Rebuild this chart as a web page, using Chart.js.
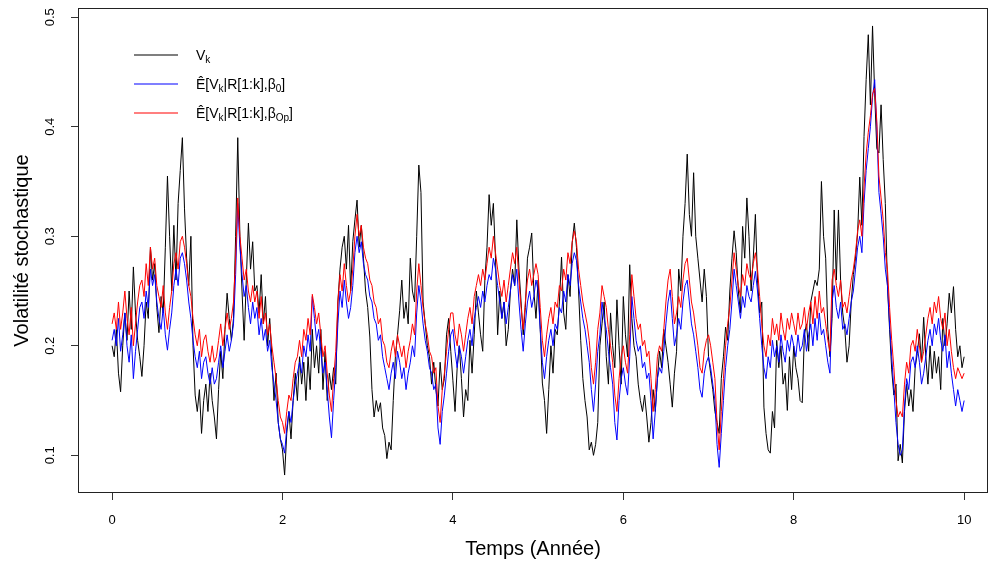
<!DOCTYPE html>
<html>
<head>
<meta charset="utf-8">
<script src="https://cdn.jsdelivr.net/npm/chart.js@4/dist/chart.umd.min.js"></script>
<style>
html,body{margin:0;padding:0;background:#fff;}
canvas{display:block;}
</style>
</head>
<body>
<canvas id="c" width="990" height="563"></canvas>
<script>
// ---- Data (time grid: 0 to 10 years, step 0.025) ----
const T_START = 0;
const T_STEP = 0.025;

const xTicks = [0, 2, 4, 6, 8, 10];
const xTickLabels = ['0', '2', '4', '6', '8', '10'];
const yTicks = [0.1, 0.2, 0.3, 0.4, 0.5];
const yTickLabels = ['0.1', '0.2', '0.3', '0.4', '0.5'];

const xTitle = 'Temps (Année)';
const yTitle = 'Volatilité stochastique';

// V_k (true stochastic volatility)
const vk = [
0.200,0.190,0.215,0.175,0.158,0.200,0.230,0.205,0.250,0.215,0.272,0.230,0.205,0.190,0.172,0.200,0.240,0.225,0.290,0.260,
0.275,0.235,0.212,0.245,0.230,0.290,0.355,0.300,0.250,0.310,0.260,0.330,0.360,0.390,0.325,0.280,0.255,0.300,0.200,0.155,
0.140,0.160,0.120,0.150,0.165,0.140,0.175,0.150,0.135,0.115,0.160,0.195,0.170,0.215,0.248,0.225,0.205,0.225,0.300,0.390,
0.300,0.250,0.205,0.260,0.312,0.270,0.295,0.250,0.255,0.230,0.265,0.220,0.245,0.200,0.225,0.190,0.150,0.175,0.130,0.115,
0.105,0.082,0.120,0.140,0.115,0.150,0.175,0.150,0.190,0.165,0.185,0.150,0.190,0.160,0.215,0.180,0.200,0.175,0.215,0.160,
0.195,0.150,0.175,0.160,0.180,0.165,0.240,0.270,0.290,0.300,0.270,0.310,0.250,0.295,0.315,0.333,0.290,0.310,0.280,0.250,
0.235,0.208,0.160,0.135,0.150,0.140,0.148,0.125,0.118,0.097,0.112,0.105,0.150,0.190,0.210,0.232,0.260,0.225,0.240,0.220,
0.280,0.250,0.240,0.300,0.365,0.340,0.240,0.220,0.200,0.190,0.165,0.185,0.160,0.145,0.185,0.160,0.170,0.210,0.225,0.195,
0.168,0.140,0.180,0.200,0.170,0.135,0.160,0.150,0.205,0.175,0.210,0.250,0.230,0.210,0.195,0.260,0.290,0.338,0.310,0.330,
0.280,0.210,0.250,0.225,0.240,0.200,0.215,0.250,0.270,0.255,0.315,0.270,0.240,0.210,0.235,0.280,0.290,0.303,0.250,0.225,
0.260,0.215,0.166,0.150,0.120,0.160,0.200,0.175,0.215,0.210,0.240,0.281,0.230,0.215,0.265,0.245,0.294,0.312,0.290,0.250,
0.205,0.170,0.150,0.135,0.105,0.112,0.100,0.110,0.130,0.200,0.220,0.240,0.190,0.165,0.230,0.200,0.180,0.242,0.200,0.165,
0.245,0.210,0.190,0.274,0.225,0.200,0.190,0.165,0.150,0.140,0.155,0.135,0.112,0.130,0.160,0.140,0.170,0.195,0.180,0.215,
0.200,0.185,0.165,0.144,0.175,0.195,0.270,0.250,0.300,0.330,0.375,0.320,0.300,0.358,0.300,0.280,0.260,0.240,0.270,0.245,
0.190,0.175,0.160,0.140,0.130,0.120,0.170,0.190,0.217,0.205,0.250,0.280,0.305,0.285,0.250,0.230,0.309,0.280,0.335,0.300,
0.250,0.280,0.320,0.260,0.230,0.240,0.144,0.120,0.105,0.102,0.140,0.125,0.205,0.180,0.200,0.165,0.175,0.141,0.190,0.160,
0.200,0.180,0.170,0.150,0.148,0.210,0.220,0.195,0.240,0.250,0.260,0.255,0.270,0.350,0.300,0.280,0.215,0.190,0.225,0.324,
0.260,0.324,0.260,0.230,0.215,0.185,0.200,0.240,0.265,0.280,0.303,0.354,0.310,0.391,0.443,0.484,0.420,0.492,0.430,0.380,
0.376,0.420,0.370,0.330,0.255,0.215,0.178,0.155,0.165,0.095,0.110,0.093,0.140,0.165,0.145,0.160,0.140,0.180,0.193,0.211,
0.185,0.226,0.190,0.165,0.200,0.170,0.195,0.175,0.190,0.160,0.225,0.200,0.220,0.248,0.230,0.254,0.215,0.190,0.200,0.180,
0.190
];

// Ê[V_k | R[1:k], β0]
const estBeta0 = [
0.205,0.215,0.200,0.225,0.195,0.210,0.230,0.200,0.185,0.210,0.170,0.195,0.215,0.235,0.240,0.225,0.250,0.235,0.270,0.255,
0.265,0.240,0.225,0.215,0.235,0.210,0.196,0.215,0.230,0.255,0.270,0.255,0.280,0.285,0.275,0.260,0.240,0.225,0.205,0.190,
0.180,0.195,0.170,0.185,0.190,0.175,0.165,0.180,0.165,0.170,0.185,0.200,0.180,0.195,0.210,0.195,0.205,0.220,0.265,0.330,
0.290,0.265,0.245,0.255,0.235,0.220,0.240,0.225,0.235,0.210,0.225,0.205,0.215,0.195,0.205,0.180,0.165,0.150,0.130,0.115,
0.110,0.102,0.125,0.140,0.130,0.150,0.165,0.175,0.185,0.175,0.200,0.190,0.210,0.195,0.245,0.225,0.205,0.215,0.195,0.175,
0.185,0.160,0.135,0.116,0.150,0.180,0.220,0.250,0.235,0.260,0.240,0.225,0.235,0.255,0.285,0.300,0.285,0.295,0.275,0.265,
0.260,0.245,0.240,0.225,0.220,0.205,0.210,0.190,0.180,0.170,0.160,0.175,0.185,0.170,0.195,0.185,0.170,0.180,0.160,0.175,
0.185,0.200,0.190,0.230,0.255,0.240,0.220,0.205,0.195,0.180,0.175,0.160,0.165,0.125,0.110,0.140,0.155,0.175,0.195,0.210,
0.215,0.195,0.180,0.200,0.190,0.175,0.190,0.205,0.215,0.200,0.225,0.235,0.245,0.235,0.250,0.240,0.255,0.265,0.260,0.280,
0.270,0.255,0.240,0.225,0.240,0.220,0.235,0.250,0.265,0.255,0.270,0.240,0.215,0.195,0.220,0.240,0.250,0.235,0.245,0.260,
0.250,0.215,0.185,0.170,0.190,0.205,0.215,0.200,0.220,0.215,0.235,0.230,0.250,0.240,0.265,0.255,0.275,0.285,0.278,0.255,
0.240,0.225,0.215,0.200,0.185,0.160,0.140,0.165,0.195,0.210,0.240,0.225,0.215,0.195,0.180,0.165,0.130,0.114,0.150,0.170,
0.180,0.165,0.155,0.190,0.245,0.225,0.205,0.195,0.200,0.180,0.185,0.170,0.175,0.150,0.115,0.140,0.170,0.180,0.175,0.195,
0.220,0.240,0.251,0.225,0.200,0.210,0.225,0.215,0.240,0.255,0.260,0.240,0.220,0.210,0.195,0.180,0.160,0.153,0.175,0.185,
0.190,0.180,0.165,0.150,0.110,0.089,0.120,0.150,0.180,0.200,0.215,0.240,0.270,0.255,0.240,0.225,0.245,0.235,0.255,0.245,
0.240,0.255,0.268,0.250,0.225,0.200,0.180,0.170,0.190,0.180,0.205,0.190,0.200,0.185,0.210,0.195,0.185,0.205,0.195,0.210,
0.200,0.190,0.210,0.195,0.200,0.215,0.195,0.210,0.220,0.200,0.225,0.205,0.230,0.210,0.215,0.200,0.185,0.175,0.240,0.255,
0.235,0.225,0.240,0.215,0.220,0.210,0.225,0.240,0.250,0.270,0.290,0.300,0.285,0.330,0.360,0.380,0.400,0.427,0.443,0.400,
0.340,0.321,0.300,0.270,0.255,0.220,0.190,0.160,0.130,0.110,0.100,0.105,0.145,0.170,0.160,0.185,0.190,0.180,0.200,0.185,
0.165,0.175,0.190,0.205,0.215,0.200,0.220,0.210,0.225,0.205,0.195,0.210,0.180,0.195,0.175,0.160,0.145,0.160,0.150,0.140,
0.150
];

// Ê[V_k | R[1:k], β_Op]
const estBetaOp = [
0.220,0.230,0.215,0.240,0.215,0.230,0.250,0.225,0.210,0.235,0.200,0.220,0.240,0.255,0.260,0.245,0.275,0.255,0.290,0.270,
0.280,0.255,0.245,0.235,0.255,0.230,0.215,0.235,0.250,0.275,0.285,0.270,0.295,0.300,0.290,0.275,0.255,0.245,0.225,0.210,
0.200,0.215,0.190,0.205,0.210,0.195,0.185,0.200,0.185,0.190,0.205,0.220,0.200,0.215,0.230,0.215,0.225,0.240,0.280,0.335,
0.300,0.280,0.260,0.270,0.250,0.240,0.255,0.240,0.250,0.225,0.245,0.220,0.230,0.210,0.220,0.200,0.185,0.170,0.150,0.135,
0.130,0.120,0.140,0.155,0.150,0.170,0.185,0.190,0.205,0.190,0.215,0.205,0.225,0.210,0.247,0.235,0.220,0.230,0.210,0.190,
0.200,0.175,0.155,0.140,0.170,0.195,0.240,0.265,0.250,0.275,0.255,0.240,0.250,0.270,0.300,0.320,0.300,0.310,0.290,0.280,
0.275,0.260,0.255,0.240,0.235,0.220,0.225,0.205,0.200,0.185,0.180,0.195,0.205,0.190,0.210,0.200,0.190,0.200,0.180,0.195,
0.205,0.220,0.210,0.250,0.275,0.255,0.235,0.220,0.210,0.195,0.190,0.175,0.180,0.145,0.130,0.160,0.175,0.195,0.215,0.230,
0.230,0.210,0.200,0.220,0.210,0.195,0.210,0.225,0.235,0.220,0.245,0.255,0.265,0.255,0.270,0.260,0.275,0.290,0.280,0.300,
0.285,0.270,0.255,0.245,0.260,0.240,0.255,0.270,0.285,0.275,0.290,0.260,0.235,0.215,0.240,0.260,0.270,0.255,0.265,0.275,
0.265,0.235,0.205,0.190,0.210,0.225,0.235,0.220,0.240,0.235,0.255,0.250,0.270,0.260,0.285,0.275,0.295,0.305,0.295,0.270,
0.255,0.240,0.230,0.220,0.205,0.180,0.165,0.185,0.215,0.230,0.255,0.245,0.235,0.215,0.200,0.185,0.155,0.140,0.170,0.190,
0.200,0.185,0.175,0.210,0.265,0.245,0.225,0.215,0.220,0.200,0.205,0.190,0.195,0.170,0.140,0.160,0.190,0.200,0.195,0.215,
0.240,0.260,0.270,0.245,0.220,0.230,0.245,0.235,0.260,0.275,0.280,0.260,0.240,0.230,0.215,0.200,0.180,0.175,0.195,0.205,
0.210,0.200,0.185,0.170,0.130,0.105,0.140,0.170,0.200,0.220,0.235,0.260,0.285,0.270,0.255,0.245,0.265,0.255,0.275,0.265,
0.260,0.275,0.285,0.270,0.245,0.220,0.200,0.190,0.210,0.200,0.225,0.210,0.220,0.205,0.230,0.215,0.205,0.225,0.215,0.230,
0.220,0.210,0.230,0.215,0.220,0.235,0.215,0.230,0.240,0.220,0.245,0.225,0.250,0.230,0.235,0.220,0.205,0.195,0.260,0.270,
0.255,0.245,0.260,0.235,0.240,0.230,0.245,0.260,0.270,0.285,0.305,0.315,0.300,0.345,0.375,0.395,0.410,0.430,0.435,0.405,
0.355,0.335,0.315,0.285,0.270,0.235,0.205,0.180,0.150,0.135,0.140,0.135,0.165,0.185,0.175,0.200,0.205,0.195,0.215,0.200,
0.185,0.195,0.210,0.225,0.235,0.220,0.240,0.230,0.245,0.225,0.215,0.230,0.200,0.215,0.195,0.180,0.170,0.180,0.175,0.170,
0.175
];

const times = vk.map((_, i) => +(T_START + i * T_STEP).toFixed(3));
const toXY = arr => arr.map((v, i) => ({ x: times[i], y: v }));

const FONT = "'Liberation Sans', Arial, sans-serif";
const COLORS = { vk: '#000000', beta0: '#0000ff', betaOp: '#ff0000' };

// Custom drawing: box, rotated y tick labels, axis titles, legend
const decorPlugin = {
  id: 'decor',
  afterDraw(chart) {
    const { ctx, chartArea: a, scales } = chart;
    ctx.save();
    // box
    ctx.strokeStyle = '#222222';
    ctx.lineWidth = 1;
    ctx.strokeRect(Math.round(a.left) + 0.5, Math.round(a.top) + 0.5,
                   Math.round(a.right - a.left) - 1, Math.round(a.bottom - a.top) - 1);
    // y tick labels (rotated, R style)
    ctx.fillStyle = '#000000';
    ctx.font = '13px ' + FONT;
    ctx.textAlign = 'center';
    ctx.textBaseline = 'middle';
    yTicks.forEach((v, i) => {
      const y = scales.y.getPixelForValue(v);
      ctx.save();
      ctx.translate(50, y);
      ctx.rotate(-Math.PI / 2);
      ctx.fillText(yTickLabels[i], 0, 0);
      ctx.restore();
    });
    // axis titles
    ctx.font = '20px ' + FONT;
    ctx.fillText(xTitle, (a.left + a.right) / 2, 549);
    ctx.save();
    ctx.translate(22, (a.top + a.bottom) / 2);
    ctx.rotate(-Math.PI / 2);
    ctx.fillText(yTitle, 0, 0);
    ctx.restore();
    ctx.restore();

    // legend
    const entries = [
      { color: COLORS.vk, parts: [['V'], ['k', 1]] },
      { color: COLORS.beta0, parts: [['Ê[V'], ['k', 1], ['|R[1:k],β'], ['0', 1], [']']] },
      { color: COLORS.betaOp, parts: [['Ê[V'], ['k', 1], ['|R[1:k],β'], ['Op', 1], [']']] }
    ];
    const ly = [55, 84, 113];
    entries.forEach((e, i) => {
      ctx.save();
      ctx.strokeStyle = e.color;
      ctx.lineWidth = 1.2;
      ctx.beginPath();
      ctx.moveTo(134, ly[i]);
      ctx.lineTo(178, ly[i]);
      ctx.stroke();
      ctx.restore();
    });
    entries.forEach((e, i) => {
      ctx.save();
      let x = 196;
      ctx.fillStyle = '#000000';
      ctx.textAlign = 'left';
      ctx.textBaseline = 'alphabetic';
      e.parts.forEach(p => {
        if (p[1]) {
          ctx.font = '10px ' + FONT;
          ctx.fillText(p[0], x, ly[i] + 8);
        } else {
          ctx.font = '14px ' + FONT;
          ctx.fillText(p[0], x, ly[i] + 5);
        }
        x += ctx.measureText(p[0]).width;
      });
      ctx.restore();
    });
  }
};

new Chart(document.getElementById('c'), {
  type: 'line',
  data: {
    datasets: [
      { label: 'V_k', data: toXY(vk), borderColor: COLORS.vk, borderWidth: 1, pointRadius: 0, tension: 0, order: 2 },
      { label: 'beta0', data: toXY(estBeta0), borderColor: COLORS.beta0, borderWidth: 1, pointRadius: 0, tension: 0, order: 1 },
      { label: 'betaOp', data: toXY(estBetaOp), borderColor: COLORS.betaOp, borderWidth: 1, pointRadius: 0, tension: 0, order: 0 }
    ]
  },
  options: {
    responsive: false,
    animation: false,
    events: [],
    layout: { padding: { top: 8, right: 2, left: 0, bottom: 0 } },
    plugins: { legend: { display: false }, tooltip: { enabled: false } },
    scales: {
      x: {
        type: 'linear',
        min: -0.4,
        max: 10.28,
        afterFit: s => { s.height = 70; },
        afterBuildTicks: s => { s.ticks = xTicks.map(v => ({ value: v })); },
        ticks: {
          autoSkip: false, maxRotation: 0, minRotation: 0, padding: 13,
          color: '#000', font: { family: FONT, size: 13 },
          callback: v => xTickLabels[xTicks.indexOf(v)]
        },
        grid: { display: true, drawOnChartArea: false, drawTicks: true, tickLength: 7, tickColor: '#333', lineWidth: 1 },
        border: { display: false }
      },
      y: {
        type: 'linear',
        min: 0.0656,
        max: 0.5084,
        afterFit: s => { s.width = 78; },
        afterBuildTicks: s => { s.ticks = yTicks.map(v => ({ value: v })); },
        ticks: { display: false },
        grid: { display: true, drawOnChartArea: false, drawTicks: true, tickLength: 7, tickColor: '#333', lineWidth: 1 },
        border: { display: false }
      }
    }
  },
  plugins: [decorPlugin]
});
</script>
</body>
</html>
